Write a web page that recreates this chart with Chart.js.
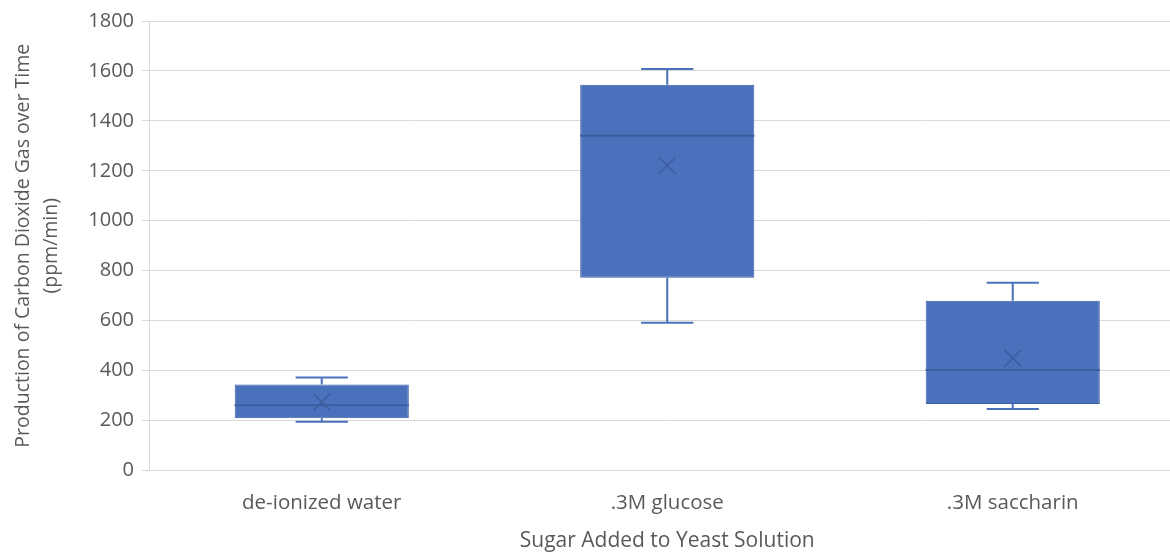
<!DOCTYPE html>
<html>
<head>
<meta charset="utf-8">
<script src="https://cdn.jsdelivr.net/npm/chart.js@4.4.1/dist/chart.umd.min.js"></script>
<style>
  html, body { margin: 0; padding: 0; background: #fff; overflow: hidden; }
  #wrap { width: 1170px; height: 554px; overflow: hidden; }
</style>
</head>
<body>
<div id="wrap"><canvas id="chart" width="1199" height="554"></canvas></div>
<script>
// Data
const categories = ['de-ionized water', '.3M glucose', '.3M saccharin'];
const whiskerLow = [195, 592, 246];
const quartile1 = [209, 772, 266];
const medians = [261, 1340, 402];
const quartile3 = [344, 1545, 680];
const whiskerHigh = [372, 1608, 752];
const means = [274, 1221, 450];

const BLUE = '#4A72BC';
const DARK = '#3C5E9E';
const GRAY = '#595959';
const FONT = "'Open Sans', 'Noto Sans', sans-serif";

// whiskers and median lines, drawn from the scales
const boxExtras = {
  id: 'boxExtras',
  afterDatasetsDraw(chart) {
    const { ctx, scales: { x, y } } = chart;
    const bars = chart.getDatasetMeta(0).data;
    ctx.save();
    categories.forEach((c, i) => {
      const cx = x.getPixelForValue(i);
      const boxW = bars[i].width;
      const cap = boxW * 0.3;
      ctx.strokeStyle = BLUE;
      ctx.lineWidth = 2;
      ctx.beginPath();
      ctx.moveTo(cx, y.getPixelForValue(quartile3[i]));
      ctx.lineTo(cx, y.getPixelForValue(whiskerHigh[i]));
      ctx.moveTo(cx - cap / 2, y.getPixelForValue(whiskerHigh[i]));
      ctx.lineTo(cx + cap / 2, y.getPixelForValue(whiskerHigh[i]));
      ctx.moveTo(cx, y.getPixelForValue(quartile1[i]));
      ctx.lineTo(cx, y.getPixelForValue(whiskerLow[i]));
      ctx.moveTo(cx - cap / 2, y.getPixelForValue(whiskerLow[i]));
      ctx.lineTo(cx + cap / 2, y.getPixelForValue(whiskerLow[i]));
      ctx.stroke();
      ctx.strokeStyle = DARK;
      ctx.beginPath();
      ctx.moveTo(cx - boxW / 2, y.getPixelForValue(medians[i]));
      ctx.lineTo(cx + boxW / 2, y.getPixelForValue(medians[i]));
      ctx.stroke();
    });
    ctx.restore();
  }
};

new Chart(document.getElementById('chart'), {
  data: {
    labels: categories,
    datasets: [{
      type: 'bar',
      order: 2,
      data: categories.map((c, i) => [quartile1[i], quartile3[i]]),
      backgroundColor: BLUE,
      borderColor: DARK,
      borderWidth: 1,
      borderSkipped: false,
      categoryPercentage: 1,
      barPercentage: 0.504
    }, {
      type: 'line',
      order: 1,
      data: means,
      showLine: false,
      pointStyle: 'crossRot',
      pointRadius: 12,
      borderColor: DARK,
      borderWidth: 1.5
    }]
  },
  options: {
    responsive: false,
    animation: false,
    layout: { padding: { left: 6, top: 21, right: 0, bottom: 0 } },
    plugins: { legend: { display: false }, tooltip: { enabled: false } },
    scales: {
      x: {
        grid: { display: false },
        border: { display: false },
        ticks: { color: GRAY, font: { family: FONT, size: 20.5 }, padding: 12 },
        title: {
          display: true,
          text: 'Sugar Added to Yeast Solution',
          color: GRAY,
          font: { family: FONT, size: 21 },
          padding: { top: 8, bottom: 0 }
        },
        afterFit(scale) { scale.height = 554 - 470.5; }
      },
      y: {
        min: 0,
        max: 1800,
        ticks: {
          stepSize: 200, color: GRAY, font: { family: FONT, size: 20 }, padding: 8,
          callback: (v) => String(v)
        },
        grid: { color: '#D9D9D9', lineWidth: 1, tickLength: 7 },
        border: { display: true, color: '#D9D9D9' },
        title: {
          display: true,
          text: ['Production of Carbon Dioxide Gas over Time', '(ppm/min)'],
          color: GRAY,
          font: { family: FONT, size: 19.5, lineHeight: 1.4 },
          padding: { top: 4, bottom: 0 }
        },
        afterFit(scale) { scale.width = 149 - 6; }
      }
    }
  },
  plugins: [boxExtras]
});
</script>
</body>
</html>
